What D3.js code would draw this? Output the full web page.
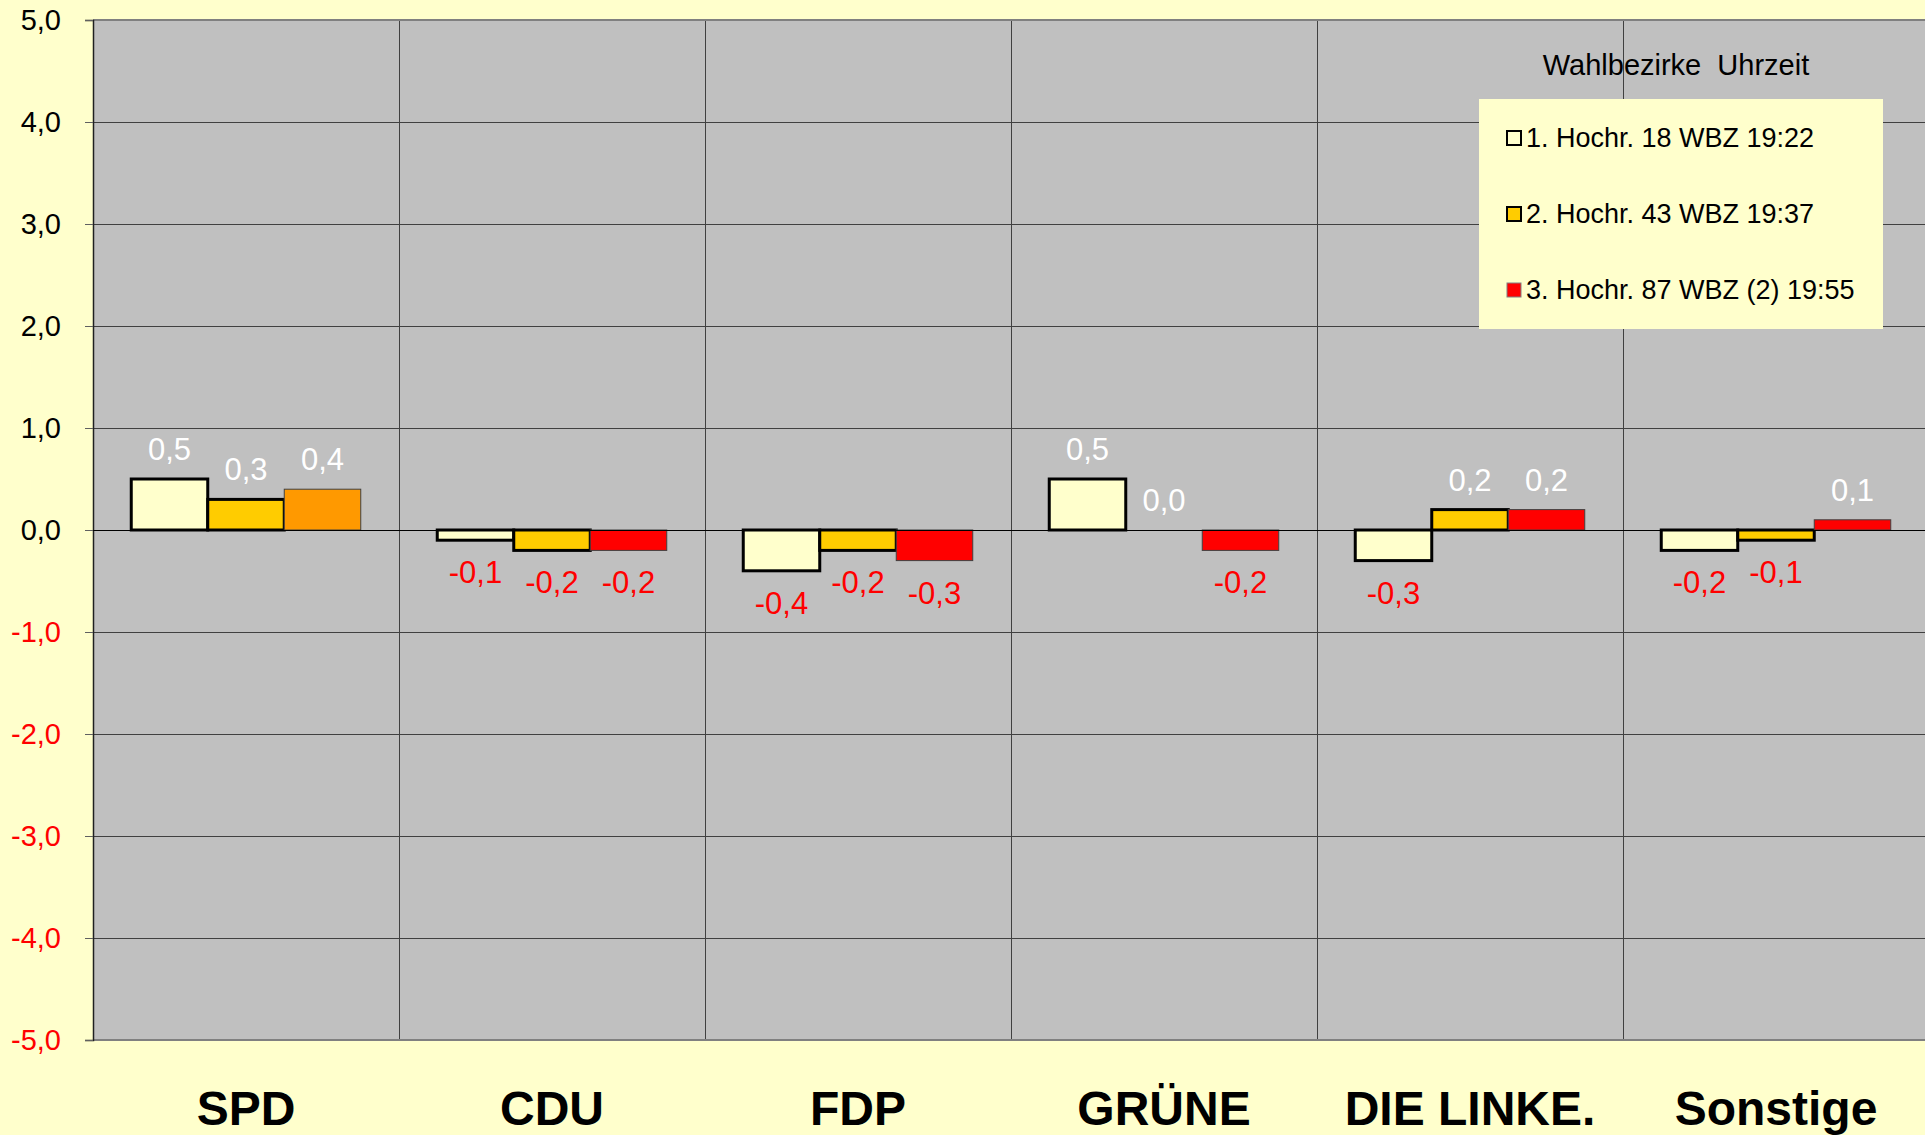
<!DOCTYPE html>
<html>
<head>
<meta charset="utf-8">
<script src="https://cdn.jsdelivr.net/npm/d3@7"></script>
<style>
  html, body { margin: 0; padding: 0; background: #FFFFCC; }
  svg { display: block; font-family: "Liberation Sans", Arial, sans-serif; }
  text { white-space: pre; }
</style>
</head>
<body>
<div id="chart"></div>
<script>
const PARTIES = ['SPD', 'CDU', 'FDP', 'GRÜNE', 'DIE LINKE.', 'Sonstige'];
const SERIES = ['1. Hochr. 18 WBZ 19:22', '2. Hochr. 43 WBZ 19:37', '3. Hochr. 87 WBZ (2) 19:55'];
const HOCHR_1 = [0.5, -0.1, -0.4, 0.5, -0.3, -0.2];
const HOCHR_2 = [0.3, -0.2, -0.2, 0.0, 0.2, -0.1];
const HOCHR_3 = [0.4, -0.2, -0.3, -0.2, 0.2, 0.1];
const Y_TICKS = [5, 4, 3, 2, 1, 0, -1, -2, -3, -4, -5];
const LEGEND_TITLE = 'Wahlbezirke  Uhrzeit';

const WIDTH = 1925;
const HEIGHT = 1135;

const fills = ['#FFFFCC', '#FFCC00', '#FF0000'];
const strokes = ['#000000', '#000000', '#404040'];
const strokeWidths = [3, 3, 1];

const locale = d3.formatLocale({decimal: ',', thousands: '.', grouping: [3], currency: ['', '€'], minus: '-'});
const fmt = locale.format('.1f');

const margin = {top: 20, left: 93};
const plotW = 6 * 306;
const plotH = 1020;

const svg = d3.select('#chart')
	.append('svg')
	.attr('width', WIDTH)
	.attr('height', HEIGHT);

svg.append('rect')
	.attr('width', WIDTH)
	.attr('height', HEIGHT)
	.attr('fill', '#FFFFCC');

const g = svg.append('g')
	.attr('transform', 'translate(' + margin.left + ',' + margin.top + ')');

// scales
const x0 = d3.scaleBand()
	.domain(PARTIES)
	.range([0, plotW]);

const x1 = d3.scaleBand()
	.domain(d3.range(SERIES.length))
	.range([0, x0.bandwidth()])
	.paddingInner(0)
	.paddingOuter(0.5);

const y = d3.scaleLinear()
	.domain([-5, 5])
	.range([plotH, 0]);

// plot area
g.append('rect')
	.attr('width', plotW)
	.attr('height', plotH)
	.attr('fill', '#C0C0C0');

// horizontal gridlines
g.selectAll('.hgrid')
	.data(Y_TICKS.filter(d => d !== 5 && d !== -5 && d !== 0))
	.enter()
	.append('line')
	.attr('x1', 0)
	.attr('x2', plotW)
	.attr('y1', d => y(d) + 0.5)
	.attr('y2', d => y(d) + 0.5)
	.attr('stroke', '#404040')
	.attr('stroke-width', 1);

// vertical separators between parties
g.selectAll('.vgrid')
	.data(PARTIES.slice(1))
	.enter()
	.append('line')
	.attr('x1', d => Math.round(x0(d)) + 0.5)
	.attr('x2', d => Math.round(x0(d)) + 0.5)
	.attr('y1', 0)
	.attr('y2', plotH)
	.attr('stroke', '#404040')
	.attr('stroke-width', 1);

// top + bottom borders
g.append('line')
	.attr('x1', 0).attr('x2', plotW)
	.attr('y1', 0).attr('y2', 0)
	.attr('stroke', '#808080').attr('stroke-width', 2);
g.append('line')
	.attr('x1', 0).attr('x2', plotW)
	.attr('y1', plotH).attr('y2', plotH)
	.attr('stroke', '#808080').attr('stroke-width', 2);

// y axis
const yAxis = g.append('g')
	.call(d3.axisLeft(y).tickValues(Y_TICKS).tickFormat(fmt).tickSize(8).tickPadding(24));
yAxis.select('.domain').attr('stroke', '#202020').attr('stroke-width', 1.5);
yAxis.selectAll('.tick line').attr('stroke', '#606060');
yAxis.selectAll('text')
	.attr('font-size', 29)
	.attr('font-family', '"Liberation Sans", Arial, sans-serif')
	.attr('fill', d => d < 0 ? '#FF0000' : '#000000');

// data table
const rows = [];
PARTIES.forEach((p, i) => {
	[HOCHR_1, HOCHR_2, HOCHR_3].forEach((arr, s) => {
		rows.push({party: p, series: s, value: arr[i]});
	});
});

// bars
g.selectAll('.bar')
	.data(rows)
	.enter()
	.append('rect')
	.attr('class', 'bar')
	.attr('x', d => x0(d.party) + x1(d.series))
	.attr('width', x1.bandwidth())
	.attr('y', d => y(Math.max(0, d.value)))
	.attr('height', d => Math.abs(y(d.value) - y(0)))
	.attr('fill', d => (d.party === 'SPD' && d.series === 2) ? '#FF9900' : fills[d.series])
	.attr('stroke', d => strokes[d.series])
	.attr('stroke-width', d => d.value === 0 ? 0 : strokeWidths[d.series]);

// zero line
g.append('line')
	.attr('x1', 0).attr('x2', plotW)
	.attr('y1', y(0) + 0.5).attr('y2', y(0) + 0.5)
	.attr('stroke', '#000000').attr('stroke-width', 1);

// value labels
g.selectAll('.label')
	.data(rows)
	.enter()
	.append('text')
	.attr('class', 'label')
	.attr('x', d => x0(d.party) + x1(d.series) + x1.bandwidth() / 2)
	.attr('y', d => d.value >= 0 ? y(d.value) - 19 : y(d.value) + 43)
	.attr('text-anchor', 'middle')
	.attr('font-size', 31)
	.attr('fill', d => d.value >= 0 ? '#FFFFFF' : '#FF0000')
	.text(d => fmt(d.value));

// x axis labels
const xAxis = g.append('g')
	.attr('transform', 'translate(0,' + plotH + ')')
	.call(d3.axisBottom(x0).tickSize(0).tickPadding(51));
xAxis.select('.domain').remove();
xAxis.selectAll('text')
	.attr('font-size', 48)
	.attr('font-weight', 'bold')
	.attr('font-family', '"Liberation Sans", Arial, sans-serif')
	.attr('fill', '#000000');

// legend
svg.append('text')
	.attr('x', 1676)
	.attr('y', 75)
	.attr('text-anchor', 'middle')
	.attr('font-size', 29)
	.attr('fill', '#000000')
	.text(LEGEND_TITLE);

const legend = svg.append('g')
	.attr('transform', 'translate(1479,99)');

legend.append('rect')
	.attr('width', 404)
	.attr('height', 230)
	.attr('fill', '#FFFFCC');

const item = legend.selectAll('.item')
	.data(SERIES)
	.enter()
	.append('g')
	.attr('transform', (d, i) => 'translate(0,' + (39 + i * 76) + ')');

item.append('rect')
	.attr('x', 28)
	.attr('y', -7)
	.attr('width', 14)
	.attr('height', 14)
	.attr('fill', (d, i) => fills[i])
	.attr('stroke', (d, i) => i === 2 ? '#808080' : '#000000')
	.attr('stroke-width', (d, i) => i === 2 ? 1 : 2);

item.append('text')
	.attr('x', 47)
	.attr('y', 9)
	.attr('font-size', 27)
	.attr('fill', '#000000')
	.text(d => d);
</script>
</body>
</html>
